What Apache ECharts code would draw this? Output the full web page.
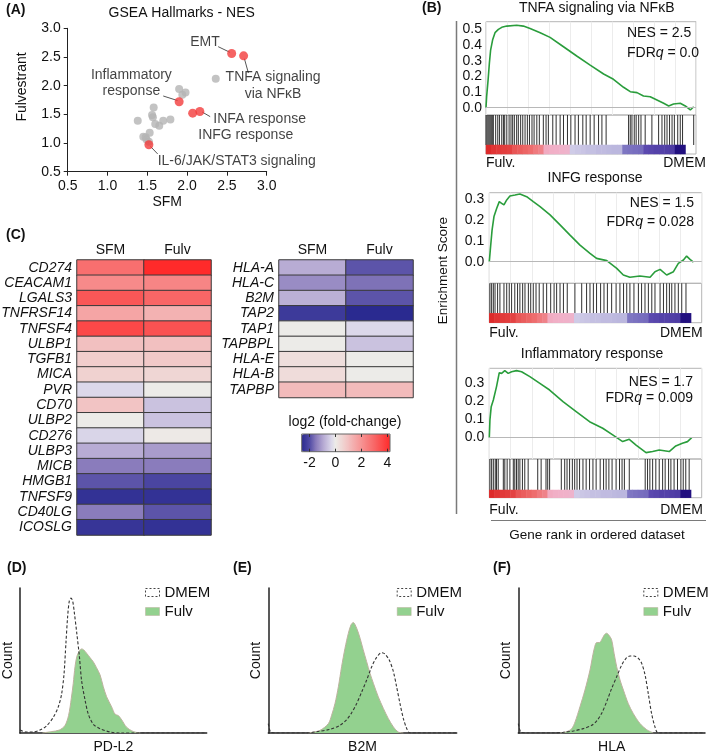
<!DOCTYPE html>
<html>
<head>
<meta charset="utf-8">
<script src="https://cdn.jsdelivr.net/npm/echarts@6/dist/echarts.min.js"></script>
<style>
  html, body { margin: 0; padding: 0; background: #fff; }
  #chart { width: 709px; height: 756px; }
</style>
</head>
<body>
<div id="chart"></div>
<script>
const FF = '"Liberation Sans", Arial, sans-serif'
const INK = '#111'

// ---------- (A) GSEA hallmarks NES: SFM vs Fulvestrant ----------
const nesGray = [[2.36,2.12],[1.90,1.94],[1.98,1.88],[1.94,1.84],[1.58,1.62],[1.56,1.49],[1.57,1.45],
  [1.38,1.39],[1.60,1.33],[1.70,1.39],[1.79,1.41],[1.65,1.30],[1.53,1.18],[1.45,1.11],[1.48,1.10],[1.49,1.06],[1.52,1.02]]
const nesRed = [[2.56,2.56],[2.71,2.52],[1.90,1.72],[2.16,1.55],[2.07,1.52],[1.52,0.97]]
const nesLabels = ['EMT','TNFA signaling\nvia NF\u03baB','Inflammatory\nresponse','INFA response','INFG response','IL-6/JAK/STAT3 signaling']
// label anchors and leader lines, in data units
const nesLabelAt = [[2.04,2.75],[3.08,2.00],[1.30,2.04],[2.33,1.42],[2.14,1.14],[1.63,0.69]]
const nesLabelAlign = ['left','center','center','left','left','left']
const nesLeaders = [[[2.39,2.68],[2.54,2.58]],[[2.72,2.47],[2.77,2.22]],[[1.70,1.82],[1.88,1.74]],
  [[2.19,1.54],[2.29,1.46]],[[1.54,0.94],[1.63,0.81]]]

// ---------- (B) GSEA running enrichment score ----------
const tnfaCurve = [[0,0],[0.3,0.07],[1,0.177],[1.6,0.283],[2.2,0.368],[3.2,0.436],[4.3,0.479],[5.9,0.5],[7.5,0.513],
  [9.9,0.521],[14.6,0.526],[17.8,0.521],[21,0.506],[25.8,0.479],[30.5,0.449],[36.9,0.389],[43.2,0.33],[49.6,0.272],
  [56,0.215],[60.7,0.181],[65.5,0.13],[68.7,0.102],[71.9,0.096],[75,0.074],[78.2,0.07],[81.4,0.049],[84.6,0.028],
  [87,0.011],[89.3,0.023],[92.5,0.028],[94.9,0.011],[97.3,-0.015],[98.9,0.006]]
const infgCurve = [[0,0],[0.6,0.072],[1.3,0.152],[2.2,0.217],[3.5,0.257],[4.7,0.289],[5.8,0.281],[6.9,0.273],[8.2,0.297],
  [9.7,0.316],[12.1,0.321],[14.4,0.326],[17.6,0.313],[20.7,0.289],[23.9,0.265],[28.6,0.225],[33.3,0.177],[38,0.128],
  [42.7,0.08],[47.4,0.04],[50.5,0.016],[55.3,0.005],[60,-0.032],[63.1,-0.064],[66.2,-0.075],[70.9,-0.069],[75.7,-0.075],
  [78,-0.048],[80.4,-0.037],[83.5,-0.064],[86.7,-0.048],[89,-0.008],[91.4,0.008],[92.9,0.027],[94.5,0.011],[96.1,-0.002]]
const inflamCurve = [[0,0],[0.3,0.098],[0.9,0.171],[1.9,0.208],[3.4,0.282],[4.7,0.359],[5.8,0.355],[7.3,0.37],[8.9,0.355],
  [10.5,0.364],[12.8,0.37],[15.2,0.364],[19.1,0.337],[23.8,0.3],[28.4,0.263],[34.7,0.199],[40.9,0.144],[47.2,0.088],
  [53.4,0.052],[58.1,0.015],[62.8,-0.022],[65.9,-0.009],[69.1,-0.041],[73.8,-0.083],[76.9,-0.077],[80,-0.068],
  [84.7,-0.077],[87.8,-0.046],[90.9,-0.031],[93.3,-0.022],[95.3,0]]

const tnfaHits = [0,0.5,1,1.5,2,2.5,3,3.5,4.6,5.6,6.4,7.5,8.3,8.9,9.9,11,11.9,12.7,13.5,14.6,15.4,16.5,17.5,18.6,19.7,
  20.7,21.9,22.9,24.2,25.4,27.3,28.6,29.7,31.8,33.4,35.3,36.9,38.8,40.4,42.4,44,46.1,47.7,49.6,51.5,53.6,55.2,57.2,
  67.9,68.7,69.5,70.6,71.5,72.7,73.8,75.8,79,82.2,83.8,85.1,86.2,87.4,88.6,89.7,91.3,92.5,93.6,98.9]
const infgHits = [0.3,1.1,1.9,2.7,3.9,5,6.9,8.2,9.4,10.5,12,13.3,14.4,15.7,16.8,18.4,19.5,20.7,22,23.5,25.4,27,28.9,
  30.5,31.7,33.3,34.9,36.7,40.3,43.5,45.8,47.4,49,50.5,52.4,54,55.6,57.6,59.7,61.5,63.2,64.7,66.2,68.1,70.2,71.7,
  73.3,74.9,76.5,78,80.4,82,83.5,84.8,85.9,87.4,89,90.6,92.6]
const inflamHits = [0.3,1.1,1.9,2.8,3.4,4.2,6.6,7.3,8.4,9.7,11.3,12,12.8,13.6,14.4,15.6,16.7,18.3,22.8,24.4,26.7,27.5,
  28.4,33.9,35.5,36.6,37.8,39.1,40.2,41.3,42.5,44.1,45.6,47.2,48.8,50.3,52.2,53.8,55,56.3,57.8,59.7,61.3,62.5,63.6,
  65.9,73.4,74.5,75.6,76.9,78.4,80,81.6,82.8,84.4,85.5,87,88.6,90.2,91.3,92.5,94.1]

// ranked list metric (40 bins, last two bins empty)
const rankMetric = [1,0.95,0.92,0.9,0.88,0.78,0.74,0.7,0.66,0.6,0.56,0.36,0.34,0.33,0.32,0.3,
  -0.03,-0.05,-0.06,-0.08,-0.08,-0.1,-0.1,-0.11,-0.12,-0.12,-0.42,-0.44,-0.46,-0.48,
  -0.66,-0.68,-0.7,-0.7,-0.72,-0.74,-1,-1]
const rankBins = 40

const gseaTitles = ['TNFA signaling via NF\u03baB','INFG response','Inflammatory response']
const gseaNes = ['2.5','1.5','1.7']
const gseaFdr = ['0.0','0.028','0.009']
const gseaCurves = [tnfaCurve, infgCurve, inflamCurve]
const gseaHits = [tnfaHits, infgHits, inflamHits]
const gseaTicks = [[0,0.1,0.2,0.3,0.4,0.5],[0,0.1,0.2,0.3],[0,0.1,0.2,0.3]]

// ---------- (C) log2 fold-change heatmaps ----------
const conds = ['SFM','Fulv']
const genesLeft = ['CD274','CEACAM1','LGALS3','TNFRSF14','TNFSF4','ULBP1','TGFB1','MICA','PVR','CD70','ULBP2',
  'CD276','ULBP3','MICB','HMGB1','TNFSF9','CD40LG','ICOSLG']
const sfmLeft  = [2.8,2.2,3.3,1.6,3.6,1.0,0.7,0.6,-0.3,0.9,0.0,-0.35,-0.9,-1.5,-1.9,-2.45,-1.5,-2.4]
const fulvLeft = [4.2,2.3,3.0,1.3,3.4,1.0,0.8,0.5,0.0,-0.6,-0.6,0.05,-1.1,-1.5,-2.1,-2.45,-1.9,-2.45]
const genesRight = ['HLA-A','HLA-C','B2M','TAP2','TAP1','TAPBPL','HLA-E','HLA-B','TAPBP']
const sfmRight  = [-0.9,-1.3,-0.85,-2.3,0.0,0.0,0.3,0.35,1.1]
const fulvRight = [-1.9,-1.6,-1.9,-2.65,-0.3,-0.6,0.0,0.0,1.1]
const fcTicks = [-2,0,2,4]

// ---------- (D-F) flow cytometry histograms ----------
const flowMarkers = ['PD-L2','B2M','HLA']
const pdl2Dmem = [[0,2],[3,0.7],[7,0.7],[10.7,2],[14.3,5],[17.9,11],[20.5,18],[22.3,27],[23.6,41],[24.6,62],[25.5,80],
  [26.4,91],[27.3,93],[28.2,91],[29.1,83],[30.4,69],[31.8,53],[33,36],[34.8,23],[36.6,13],[39.3,6],[42.9,3],[48.2,0.7],[53.6,0],[100,0]]
const pdl2Fulv = [[12,0],[17,1],[21,2],[24,5],[26,12],[27.5,24],[28.5,34],[29.5,46],[30.5,53],[32,57],[33,58],[34,57.5],
  [35.7,55],[37.5,52],[39.3,49],[41,45],[42.9,40],[44.6,32],[46.4,25],[49.1,18],[50.9,13],[52.7,12],[54.5,9],[57.1,4],[60.7,1],[64.3,0]]
const b2mDmem = [[0,6.5],[1.2,0.7],[3.5,0],[20.4,0],[25.7,0.9],[32.7,2.5],[38,5.3],[41.6,9.2],[44.2,13.9],[46.9,20.3],
  [49.6,28.4],[52.2,36.5],[54.9,45.7],[57.5,52.2],[60.2,55.4],[61.9,54.5],[64.2,50.3],[66.4,42.3],[68.1,31.9],
  [69.9,20.3],[71.7,9.9],[73.5,3],[75.2,0],[100,0]]
const b2mFulv = [[21.2,0],[27.4,1.8],[31.9,6.5],[33.6,12.2],[35.4,20.3],[37.2,31.9],[38.9,45.7],[40.7,58.4],[42.5,68.8],
  [43.9,74.6],[45.1,76.2],[46.9,72.3],[48.7,65.4],[50.4,57.3],[52.2,49.2],[54,41.1],[55.8,34.2],[58.4,24.9],
  [61.1,16.9],[63.7,10],[66.4,4.2],[69,0.7],[71.7,0]]
const hlaDmem = [[0,6.5],[1.3,0.7],[3.6,0],[18.8,0],[24.1,0.5],[29.5,1.4],[34.8,3],[39.3,5.3],[42,8.3],[44.6,13.4],
  [47.3,21.5],[50,30.7],[52.7,38.8],[55.4,46.9],[57.7,51.5],[59.8,53.1],[62,53.1],[64.3,51.5],[66.1,48],[67.9,40],
  [69.6,27.3],[71.4,13.4],[73.2,4.2],[75,0],[100,0]]
const hlaFulv = [[22.3,0],[25.9,0.9],[28.6,3],[30.4,7.6],[33,18],[35.7,29.6],[38.4,43.4],[40.5,57.3],[42,62.4],[43.4,62.4],
  [44.6,64.2],[46.1,67.7],[47.3,68.8],[48.8,67],[50,64.2],[51.3,55],[52.7,45.7],[54.5,36.5],[56.3,29.6],[58.9,20.3],
  [61.6,13.4],[65.2,6.5],[68.8,2.3],[72.3,0]]
const flowDmem = [pdl2Dmem, b2mDmem, hlaDmem]
const flowFulv = [pdl2Fulv, b2mFulv, hlaFulv]

// ---------- layout (pixels) ----------
const gseaLayout = [
  { left: 486, right: 696, top: 21.7, curveBottom: 115, hitsBottom: 145, barBottom: 154, ymin: -0.047, ymax: 0.549,
    titleX: 596.7, titleY: 8.3, labelY: 163, dmemRight: 706, nesX: 627, nesAlign: 'left', nesY: [33.3, 53.3], labelMargin: 4 },
  { left: 489.3, right: 701.7, top: 192.7, curveBottom: 283.3, hitsBottom: 313.3, barBottom: 322.7, ymin: -0.104, ymax: 0.332,
    titleX: 595, titleY: 178.3, labelY: 333.3, dmemRight: 702.7, nesX: 694, nesAlign: 'right', nesY: [203, 221.7], labelMargin: 5 },
  { left: 489.3, right: 701.7, top: 368.3, curveBottom: 459, hitsBottom: 490, barBottom: 497.7, ymin: -0.118, ymax: 0.383,
    titleX: 592, titleY: 354, labelY: 510, dmemRight: 703, nesX: 693, nesAlign: 'right', nesY: [381.7, 398], labelMargin: 5 }
]
const flowLayout = [
  { left: 20, right: 206.7, legendLeft: 145 },
  { left: 268.3, right: 456.7, legendLeft: 396.7 },
  { left: 518.3, right: 705, legendLeft: 643.3 }
]

// ---------- helpers ----------
const font = (size, extra) => Object.assign({ fontFamily: FF, fontSize: size, color: INK }, extra || {})
function txt(x, y, text, o) {
  o = o || {}
  const f = (o.italic ? 'italic ' : '') + (o.bold ? 'bold ' : '') + (o.size || 14) + 'px ' + FF
  const align = o.align || 'left'
  const style = { text: text, font: f, fill: o.color || INK, align: align, verticalAlign: 'middle',
    textAlign: align, textVerticalAlign: 'middle' }
  if (o.rich) style.rich = o.rich
  return { type: 'text', x: x, y: y, rotation: o.rot || 0, silent: true, style: style, z: 10 }
}
function hexToRgb(h) { return [1, 3, 5].map(i => parseInt(h.substr(i, 2), 16)) }
function ramp(anchors, from, to, step) {
  const out = []
  for (let v = from; v <= to + 1e-9; v += step) {
    let k = 0
    while (k < anchors.length - 2 && v > anchors[k + 1][0]) k++
    const a = anchors[k], b = anchors[k + 1]
    const t = Math.max(0, Math.min(1, (v - a[0]) / (b[0] - a[0])))
    const ca = hexToRgb(a[1]), cb = hexToRgb(b[1])
    out.push('rgb(' + ca.map((c, i) => Math.round(c + (cb[i] - c) * t)).join(',') + ')')
  }
  return out
}
const heatAnchors = [[-2.6,'#2a2a90'],[-2.0,'#504aa4'],[-1.5,'#8a7cbc'],[-0.9,'#b8acd4'],[-0.3,'#dcd8ea'],[0,'#ecebe8'],
  [0.6,'#f0d2d0'],[1.0,'#f2c0c0'],[2.2,'#f78a8a'],[3.0,'#f86666'],[4.2,'#ff2a2a']]

const grid = [], xAxis = [], yAxis = [], series = [], graphic = [], legend = []
function addGrid(g) { grid.push(Object.assign({ outerBoundsMode: 'none', containLabel: false }, g)); return grid.length - 1 }

// ---------- (A) ----------
const gA = addGrid({ left: 67.7, top: 28.3, width: 199, height: 143.4 })
const axA = {
  gridIndex: gA, type: 'value', min: 0.5, max: 3, interval: 0.5,
  axisLine: { show: true, lineStyle: { color: '#222', width: 1 } },
  axisTick: { show: true, length: 4, lineStyle: { color: '#222' } },
  axisLabel: Object.assign(font(14), { margin: 7, formatter: v => v.toFixed(1) }),
  splitLine: { show: false }
}
xAxis.push(Object.assign({}, axA, { name: 'SFM', nameLocation: 'middle', nameGap: 23, nameTextStyle: font(14) }))
yAxis.push(Object.assign({}, axA))
const xA = xAxis.length - 1, yA = yAxis.length - 1
series.push({ type: 'scatter', xAxisIndex: xA, yAxisIndex: yA, data: nesGray, symbolSize: 8,
  itemStyle: { color: '#b4b4b4' }, silent: true })
series.push({ type: 'lines', coordinateSystem: 'cartesian2d', xAxisIndex: xA, yAxisIndex: yA,
  data: nesLeaders.map(c => ({ coords: c })), lineStyle: { color: '#555', width: 1, opacity: 1, curveness: 0 }, silent: true })
series.push({ type: 'scatter', xAxisIndex: xA, yAxisIndex: yA, data: nesRed, symbolSize: 9,
  itemStyle: { color: '#f23c3c' }, silent: true, z: 3 })
series.push({ type: 'scatter', xAxisIndex: xA, yAxisIndex: yA, symbolSize: 0, clip: false, silent: true,
  data: nesLabels.map((t, i) => ({ value: nesLabelAt[i],
    label: Object.assign(font(14), { show: true, formatter: t, position: [0, 0], align: nesLabelAlign[i],
      verticalAlign: 'middle', lineHeight: 16.5 }) })) })
graphic.push(txt(6, 10, '(A)', { bold: true }))
graphic.push(txt(181.7, 13.3, 'GSEA Hallmarks - NES', { align: 'center', size: 14 }))
graphic.push(txt(22, 87, 'Fulvestrant', { align: 'center', rot: Math.PI / 2 }))

// ---------- (B) ----------
const gseaBarSeries = []
gseaLayout.forEach((L, k) => {
  const w = L.right - L.left
  const gc = addGrid({ left: L.left, top: L.top, width: w, height: L.curveBottom - L.top, show: true,
    borderColor: '#b5b5b5', borderWidth: 1 })
  xAxis.push({ gridIndex: gc, type: 'value', min: 0, max: 100, interval: 10, axisLine: { show: false },
    axisTick: { show: false }, axisLabel: { show: false }, splitLine: { show: true, lineStyle: { color: '#ececec' } } })
  yAxis.push({ gridIndex: gc, type: 'value', min: L.ymin, max: L.ymax, axisLine: { show: false }, axisTick: { show: false },
    axisLabel: Object.assign(font(14), { margin: L.labelMargin, customValues: gseaTicks[k], formatter: v => v.toFixed(1) }),
    splitLine: { show: false } })
  series.push({ type: 'line', xAxisIndex: xAxis.length - 1, yAxisIndex: yAxis.length - 1, data: gseaCurves[k],
    showSymbol: false, symbol: 'none', silent: true, z: 3, lineStyle: { color: '#2a9d3c', width: 1.6 },
    markLine: { silent: true, symbol: 'none', label: { show: false }, animation: false,
      lineStyle: { color: '#b8b8b8', width: 1, type: 'solid' }, data: [{ yAxis: 0 }] } })

  const hitH = L.hitsBottom - L.curveBottom, barH = L.barBottom - L.hitsBottom
  const gh = addGrid({ left: L.left, top: L.curveBottom, width: w, height: L.barBottom - L.curveBottom, show: true,
    borderColor: '#b5b5b5', borderWidth: 1 })
  xAxis.push({ gridIndex: gh, type: 'value', min: 0, max: 100, show: false })
  yAxis.push({ gridIndex: gh, type: 'value', min: -barH / hitH, max: 1, show: false })
  series.push({ type: 'custom', xAxisIndex: xAxis.length - 1, yAxisIndex: yAxis.length - 1, silent: true,
    data: gseaHits[k].map(v => [v, 0]),
    renderItem: (params, api) => {
      const p0 = api.coord([api.value(0), 0]), p1 = api.coord([api.value(0), 1])
      return { type: 'line', shape: { x1: p0[0], y1: p0[1], x2: p1[0], y2: p1[1] },
        style: { stroke: '#1a1a1a', lineWidth: 1, opacity: 0.9 } }
    } })

  const gb = addGrid({ left: L.left, top: L.hitsBottom, width: w, height: barH })
  xAxis.push({ gridIndex: gb, type: 'category', data: Array.from({ length: rankBins }, (_, i) => i), show: false })
  yAxis.push({ gridIndex: gb, type: 'category', data: ['rank'], show: false })
  series.push({ type: 'heatmap', xAxisIndex: xAxis.length - 1, yAxisIndex: yAxis.length - 1, silent: true,
    data: rankMetric.map((v, i) => [i, 0, v]), itemStyle: { borderWidth: 0 } })
  gseaBarSeries.push(series.length - 1)

  graphic.push(txt(L.titleX, L.titleY, gseaTitles[k], { align: 'center' }))
  graphic.push(txt(L.left, L.labelY, 'Fulv.'))
  graphic.push(txt(L.dmemRight, L.labelY, 'DMEM', { align: 'right' }))
  graphic.push(txt(L.nesX, L.nesY[0], 'NES = ' + gseaNes[k], { align: L.nesAlign }))
  graphic.push(txt(L.nesX, L.nesY[1], 'FDR{q|q} = ' + gseaFdr[k], { align: L.nesAlign,
    rich: { q: { font: 'italic 14px ' + FF, fill: INK } } }))
})
graphic.push(txt(422, 8.3, '(B)', { bold: true }))
graphic.push(txt(443.3, 270.7, 'Enrichment Score', { align: 'center', rot: Math.PI / 2, size: 13.5 }))
graphic.push({ type: 'line', silent: true, shape: { x1: 456.5, y1: 21, x2: 456.5, y2: 514 },
  style: { stroke: '#7a7a7a', lineWidth: 1.5 } })
graphic.push({ type: 'line', silent: true, shape: { x1: 491, y1: 520.5, x2: 706, y2: 520.5 },
  style: { stroke: '#7a7a7a', lineWidth: 1 } })
graphic.push(txt(597, 535, 'Gene rank in ordered dataset', { align: 'center', size: 13.5 }))

// ---------- (C) ----------
const heatSeries = []
function addHeat(left, top, height, genes, sfm, fulv) {
  const g = addGrid({ left: left, top: top, width: 134, height: height })
  xAxis.push({ gridIndex: g, type: 'category', data: conds, position: 'top', axisLine: { show: false },
    axisTick: { show: false }, axisLabel: Object.assign(font(14), { margin: 3, interval: 0 }), splitLine: { show: false } })
  yAxis.push({ gridIndex: g, type: 'category', data: genes, inverse: true, axisLine: { show: false },
    axisTick: { show: false }, axisLabel: Object.assign(font(14, { fontStyle: 'italic' }), { margin: 5, interval: 0 }),
    splitLine: { show: false } })
  const data = []
  genes.forEach((_, i) => { data.push([0, i, sfm[i]]); data.push([1, i, fulv[i]]) })
  series.push({ type: 'heatmap', xAxisIndex: xAxis.length - 1, yAxisIndex: yAxis.length - 1, data: data, silent: true,
    itemStyle: { borderColor: '#3a3a3a', borderWidth: 1 } })
  heatSeries.push(series.length - 1)
}
addHeat(77, 260, 275, genesLeft, sfmLeft, fulvLeft)
addHeat(279, 260, 137.5, genesRight, sfmRight, fulvRight)

// tick axes around the colour-scale bar
const gK = addGrid({ left: 301.7, top: 434, width: 88.3, height: 17.7, show: true, borderColor: '#666', borderWidth: 1, z: 6 })
xAxis.push({ gridIndex: gK, type: 'value', min: -2.6, max: 4.2, position: 'bottom', z: 6, axisLine: { show: false },
  axisTick: { show: true, inside: true, length: 3, customValues: fcTicks, lineStyle: { color: '#333' } },
  axisLabel: Object.assign(font(14), { margin: 4, customValues: fcTicks }), splitLine: { show: false } })
xAxis.push({ gridIndex: gK, type: 'value', min: -2.6, max: 4.2, position: 'top', z: 6, axisLine: { show: false },
  axisTick: { show: true, inside: true, length: 3, customValues: fcTicks, lineStyle: { color: '#333' } },
  axisLabel: { show: false }, splitLine: { show: false } })
yAxis.push({ gridIndex: gK, type: 'value', show: false })
graphic.push(txt(6, 235, '(C)', { bold: true }))
graphic.push(txt(345, 421.7, 'log2 (fold-change)', { align: 'center' }))

// ---------- (D-F) ----------
const letters = ['(D)', '(E)', '(F)']
const letterX = [7, 233, 493]
flowLayout.forEach((L, k) => {
  const g = addGrid({ left: L.left, top: 588, width: L.right - L.left, height: 145 })
  xAxis.push({ gridIndex: g, type: 'value', min: 0, max: 100, axisLine: { show: true, lineStyle: { color: '#222', width: 1.5 } },
    axisTick: { show: false }, axisLabel: { show: false }, splitLine: { show: false },
    name: flowMarkers[k], nameLocation: 'middle', nameGap: 7, nameTextStyle: font(14) })
  yAxis.push({ gridIndex: g, type: 'value', min: 0, max: 100, axisLine: { show: true, lineStyle: { color: '#222', width: 1.5 } },
    axisTick: { show: false }, axisLabel: { show: false }, splitLine: { show: false },
    name: 'Count', nameLocation: 'middle', nameGap: 5, nameTextStyle: font(14) })
  const xi = xAxis.length - 1, yi = yAxis.length - 1
  series.push({ type: 'line', name: 'Fulv', xAxisIndex: xi, yAxisIndex: yi, data: flowFulv[k], smooth: 0.3,
    showSymbol: false, symbol: 'none', silent: true, lineStyle: { color: '#bdb29f', width: 1 },
    areaStyle: { color: '#93d18f', opacity: 1 } })
  series.push({ type: 'line', name: 'DMEM', xAxisIndex: xi, yAxisIndex: yi, data: flowDmem[k], smooth: 0.3,
    showSymbol: false, symbol: 'none', silent: true, z: 3, lineStyle: { color: '#333', width: 1.1, type: [3, 2] } })
  legend.push({ orient: 'vertical', left: L.legendLeft, top: 585, padding: 0, itemWidth: 14, itemHeight: 8, itemGap: 4,
    selectedMode: false, textStyle: font(15, { lineHeight: 15 }),
    data: [
      { name: 'DMEM', icon: 'rect', itemStyle: { color: '#fff', borderColor: '#444', borderWidth: 1, borderType: [2, 2] } },
      { name: 'Fulv', icon: 'rect', itemStyle: { color: '#93d18f', borderColor: '#b8ad9a', borderWidth: 0.5 } }
    ] })
  graphic.push(txt(letterX[k], 568, letters[k], { bold: true }))
})

const chart = echarts.init(document.getElementById('chart'))
chart.setOption({
  animation: false,
  grid: grid, xAxis: xAxis, yAxis: yAxis, series: series, legend: legend, graphic: graphic,
  visualMap: [
    { type: 'continuous', seriesIndex: heatSeries, min: -2.6, max: 4.2, dimension: 2,
      inRange: { color: ramp(heatAnchors, -2.6, 4.2, 0.1) },
      orient: 'horizontal', left: 301.7, top: 434, itemWidth: 17.7, itemHeight: 88.3, padding: 0,
      calculable: false, hoverLink: false, text: null, show: true },
    { type: 'continuous', seriesIndex: gseaBarSeries, min: -1, max: 1, dimension: 2, show: false,
      inRange: { color: ['#22107f', '#5a48ae', '#8b86c9', '#d6d2ea', '#f1b0c8', '#ee6c6c', '#dd2a2a'] } }
  ]
})
</script>
</body>
</html>
